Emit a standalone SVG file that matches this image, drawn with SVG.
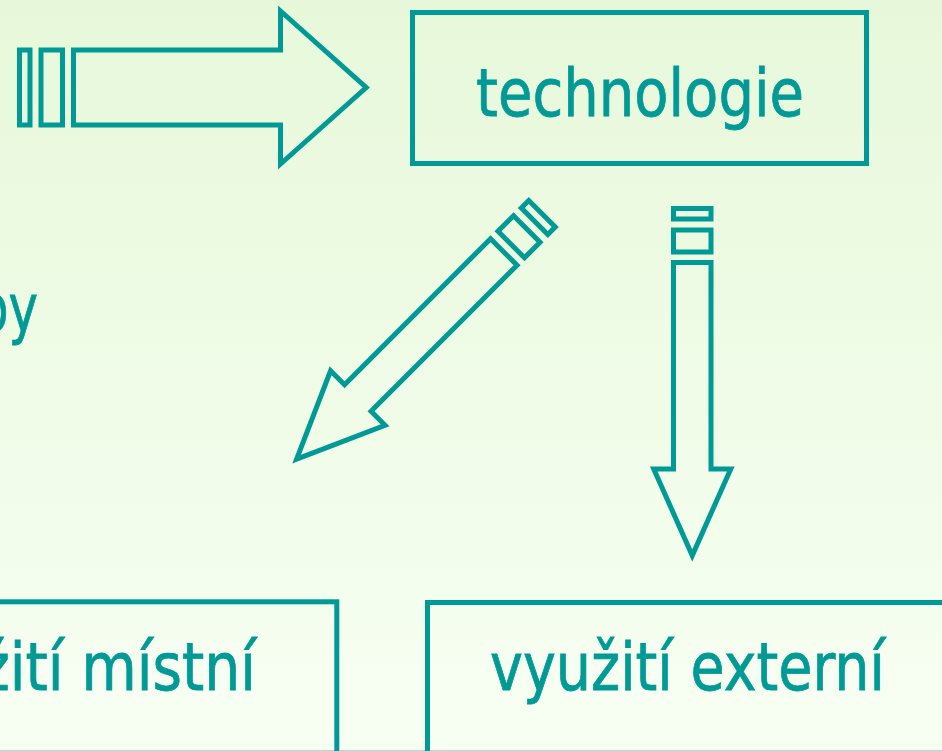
<svg xmlns="http://www.w3.org/2000/svg" width="942" height="751" viewBox="0 0 942 751">
<defs>
<linearGradient id="bg" x1="0" y1="0" x2="0" y2="1">
<stop offset="0" stop-color="#e7f8da"/>
<stop offset="1" stop-color="#f7fff3"/>
</linearGradient>
<g id="thinArrow">
<rect x="0" y="-18.75" width="10.5" height="37.5"/>
<rect x="21.5" y="-18.75" width="22" height="37.5"/>
<path d="M54,-18.75 H260.5 V-38.5 L347,0 L260.5,38.5 V18.75 H54 Z"/>
</g>
</defs>
<style>
.ln{fill:none;stroke:#009a96;stroke-width:5;stroke-miterlimit:10}
.lbl{font-family:"DejaVu Sans","Liberation Sans",sans-serif;font-size:66px;fill:#009a96;stroke:#009a96;stroke-width:0.8px}
</style>
<rect x="0" y="0" width="942" height="751" fill="url(#bg)"/>
<rect x="0" y="750" width="942" height="1" fill="#a2e0d9"/>
<text class="lbl" x="-23" y="331" textLength="61" lengthAdjust="spacingAndGlyphs">py</text>
<g id="connectors" class="ln">
<g id="arrow-in" transform="translate(19.5,87.5)">
<rect x="0" y="-37.5" width="10.5" height="75"/>
<rect x="21.5" y="-37.5" width="21.5" height="75"/>
<path d="M54,-37.5 H261 V-76.5 L346.7,0 L261,76.5 V37.5 H54 Z"/>
</g>
<use id="arrow-local" href="#thinArrow" transform="translate(542,213.8) rotate(135)"/>
<use id="arrow-external" href="#thinArrow" transform="translate(692.25,208.5) rotate(90)"/>
</g>
<g id="node-technologie">
<rect class="ln" x="412.5" y="12.5" width="454" height="151"/>
<text class="lbl" x="476" y="115.7" textLength="328" lengthAdjust="spacingAndGlyphs">technologie</text>
</g>
<g id="node-mistni">
<rect class="ln" x="-10" y="601.8" width="346.8" height="200"/>
<text class="lbl" x="-20" y="690" textLength="276" lengthAdjust="spacingAndGlyphs">žití místní</text>
</g>
<g id="node-externi">
<rect class="ln" x="427.5" y="602.5" width="600" height="200"/>
<text class="lbl" x="490" y="690" textLength="395" lengthAdjust="spacingAndGlyphs">využití externí</text>
</g>
</svg>
